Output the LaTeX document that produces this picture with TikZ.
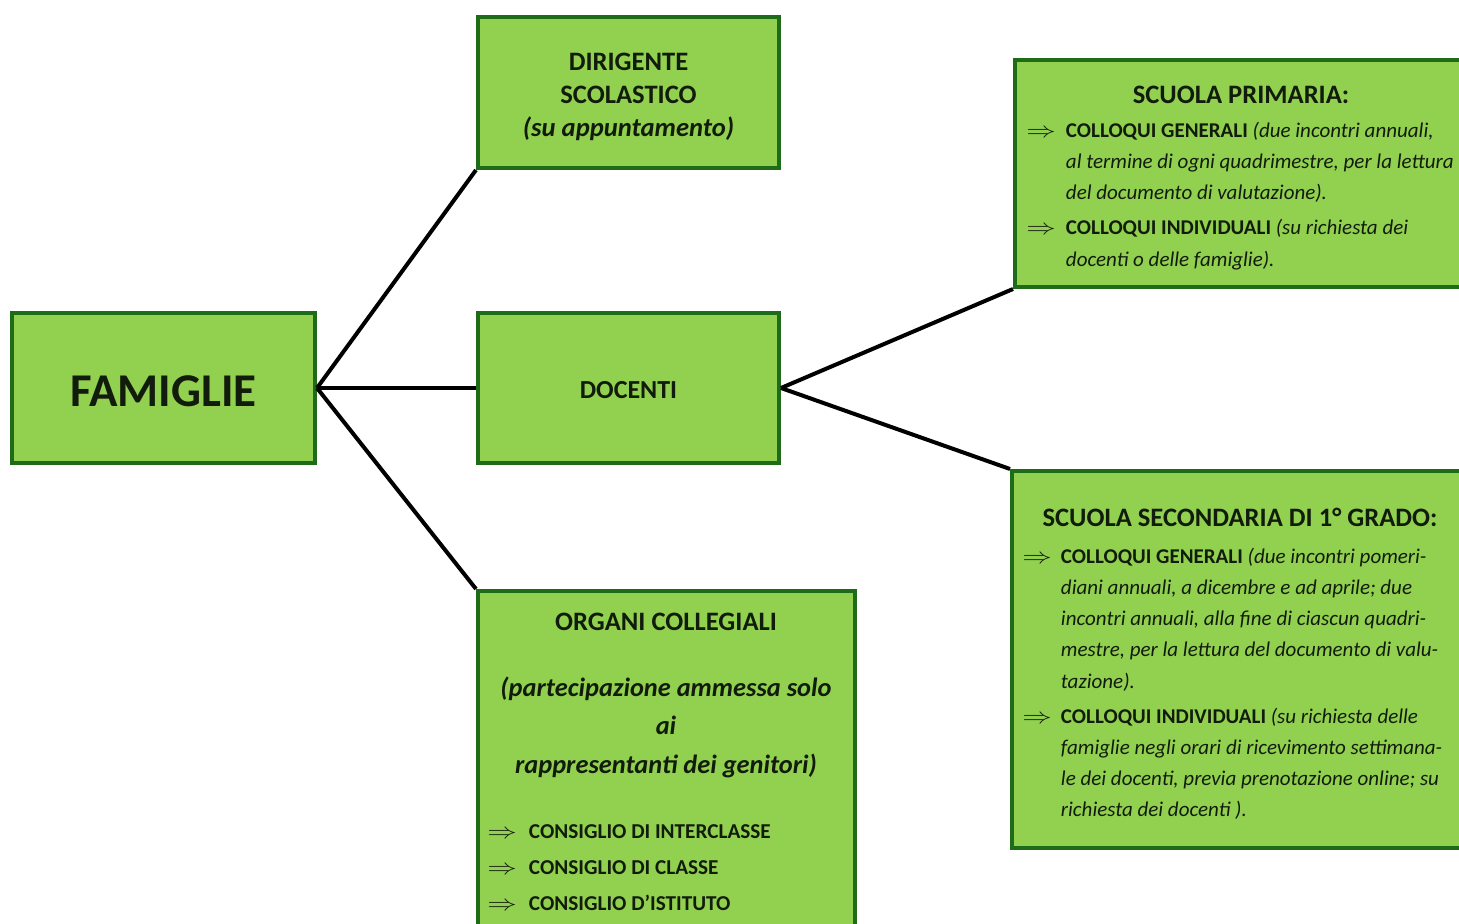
\documentclass[tikz,border=0pt]{standalone}
\usepackage{fontspec}
\usepackage{graphicx}
\setmainfont{Carlito}
\usetikzlibrary{positioning}
\definecolor{boxfill}{RGB}{146,208,80}
\definecolor{boxline}{RGB}{30,108,24}
\definecolor{inkdark}{RGB}{18,28,12}
\tikzset{
  box/.style={draw=boxline, line width=2pt, fill=boxfill},
  link/.style={line width=2pt, black},
  txt/.style={text=inkdark, inner sep=0pt, align=center}
}
\newcommand{\itemarrow}{\scalebox{1.35}[1]{$\Rightarrow$}}
\newcommand{\bodysize}{\fontsize{10.5}{15.6}\selectfont}

\begin{document}
\begin{tikzpicture}[x=0.5pt, y=-0.5pt]
  \useasboundingbox (0,0) rectangle (1459,924);
  \clip (0,0) rectangle (1459,924);
  % boxes
  \node[box, minimum width=151.5pt, minimum height=75pt] (fam) at (163.5,388) {};
  \node[box, minimum width=150.5pt, minimum height=75.5pt] (dir) at (628.5,92.5) {};
  \node[box, minimum width=150.5pt, minimum height=75pt] (doc) at (628.5,388) {};
  \node[box, minimum width=188.5pt, minimum height=184.5pt] (org) at (666.5,775.5) {};
  \node[box, minimum width=242.5pt, minimum height=113.5pt] (prim) at (1257.5,173.5) {};
  \node[box, minimum width=244pt, minimum height=188.5pt] (sec) at (1256,659.5) {};

  % links
  \draw[link] (fam.east) -- (dir.south west);
  \draw[link] (fam.east) -- (doc.west);
  \draw[link] (fam.east) -- (org.north west);
  \draw[link] (doc.east) -- (prim.south west);
  \draw[link] (doc.east) -- (sec.north west);

  % small boxes
  \node[txt, font=\fontsize{23.5}{28}\selectfont\bfseries] (famtxt) at (163.5,391) {FAMIGLIE};
  \node[txt, font=\fontsize{13.3}{16.5}\selectfont\bfseries] (dirtxt) at (628.5,97) {DIRIGENTE\\ SCOLASTICO\\ \textit{(su appuntamento)}};
  \node[txt, font=\fontsize{13}{16}\selectfont\bfseries] (doctxt) at (628.5,390) {DOCENTI};

  % organi collegiali
  \node[txt, font=\fontsize{13.3}{16}\selectfont\bfseries] (orghead) at (666,622) {ORGANI COLLEGIALI};
  \node[txt, font=\fontsize{13.2}{19.25}\selectfont\bfseries\itshape] (orgnote) at (666,727) {(partecipazione ammessa solo\\ ai\\ rappresentanti dei genitori)};
  \node[txt, anchor=north west, align=left, font=\fontsize{10.6}{18}\selectfont\bfseries] (orglist) at (487,813) {%
    \begin{tabular}{@{}l@{\hspace{6pt}}l@{}}
      \itemarrow & CONSIGLIO DI INTERCLASSE\\
      \itemarrow & CONSIGLIO DI CLASSE\\
      \itemarrow & CONSIGLIO D’ISTITUTO
    \end{tabular}};

  % scuola primaria
  \node[txt, font=\fontsize{13.3}{16}\selectfont\bfseries] (primhead) at (1241,95) {SCUOLA PRIMARIA:};
  \node[txt, anchor=north west, align=left, font=\bodysize] (primlist) at (1026,115) {%
    \begin{tabular}{@{}l@{\hspace{5pt}}l@{}}
      \itemarrow & \textbf{COLLOQUI GENERALI} \textit{(due incontri annuali,}\\
                 & \textit{al termine di ogni quadrimestre, per la lettura}\\
                 & \textit{del documento di valutazione).}\\[2pt]
      \itemarrow & \textbf{COLLOQUI INDIVIDUALI} \textit{(su richiesta dei}\\
                 & \textit{docenti o delle famiglie).}
    \end{tabular}};

  % scuola secondaria
  \node[txt, font=\fontsize{13.3}{16}\selectfont\bfseries] (sechead) at (1240,517) {SCUOLA SECONDARIA DI 1° GRADO:};
  \node[txt, anchor=north west, align=left, font=\bodysize] (seclist) at (1022,541) {%
    \begin{tabular}{@{}l@{\hspace{4.5pt}}l@{}}
      \itemarrow & \textbf{COLLOQUI GENERALI} \textit{(due incontri pomeri-}\\
                 & \textit{diani annuali, a dicembre e ad aprile; due}\\
                 & \textit{incontri annuali, alla fine di ciascun quadri-}\\
                 & \textit{mestre, per la lettura del documento di valu-}\\
                 & \textit{tazione).}\\[2pt]
      \itemarrow & \textbf{COLLOQUI INDIVIDUALI} \textit{(su richiesta delle}\\
                 & \textit{famiglie negli orari di ricevimento settimana-}\\
                 & \textit{le dei docenti, previa prenotazione online; su}\\
                 & \textit{richiesta dei docenti ).}
    \end{tabular}};
\end{tikzpicture}
\end{document}
